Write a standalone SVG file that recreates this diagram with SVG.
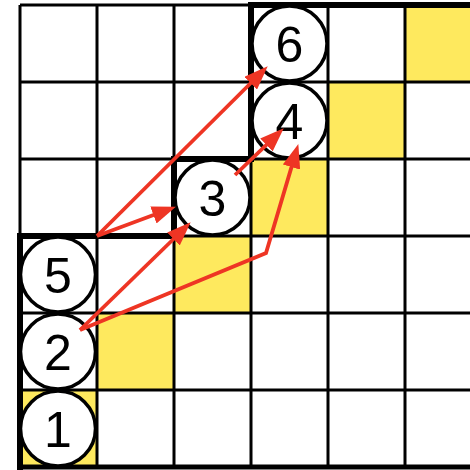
<svg xmlns="http://www.w3.org/2000/svg" width="470" height="470" viewBox="0 0 470 470">
<style>
.yel{fill:#FEE95E}
.grid{stroke:#000;stroke-width:3;fill:none}
.thick{stroke:#000;stroke-width:6;fill:none;stroke-linejoin:miter;stroke-linecap:square}
.node circle{fill:#fff;stroke:#000;stroke-width:3.5}
.node text{font-family:"Liberation Sans",Arial,sans-serif;font-size:50px;fill:#000;text-anchor:middle}
.arr{stroke:#EE3524;stroke-width:3.8;fill:none;marker-end:url(#ah)}
</style>
<defs>
<marker id="ah" viewBox="0 0 24 18" refX="13" refY="9" markerWidth="24" markerHeight="18" markerUnits="userSpaceOnUse" orient="auto">
<path d="M0,0 L24,9 L0,18 Z" fill="#EE3524"/>
</marker>
</defs>
<rect width="470" height="470" fill="#fff"/>
<g id="yellow">
<rect class="yel" x="20" y="390" width="77" height="77"/>
<rect class="yel" x="97" y="313" width="77" height="77"/>
<rect class="yel" x="174" y="236" width="77" height="77"/>
<rect class="yel" x="251" y="159" width="77" height="77"/>
<rect class="yel" x="328" y="82" width="77" height="77"/>
<rect class="yel" x="405" y="5" width="77" height="77"/>
</g>
<g id="grid" class="grid">
<path d="M20,5V467 M97,5V467 M174,5V467 M251,5V467 M328,5V467 M405,5V467"/>
<path d="M20,5H470 M20,82H470 M20,159H470 M20,236H470 M20,313H470 M20,390H470 M20,467H470"/>
</g>
<path id="staircase" class="thick" d="M20,467V236H174V159H251V5H472"/>
<path class="thick" d="M20,467H472" style="stroke-width:5"/>
<g id="n1" class="node"><circle cx="58" cy="428.5" r="37.5"/><text x="58" y="446.5">1</text></g>
<g id="n2" class="node"><circle cx="58" cy="351.5" r="37.5"/><text x="58" y="369.5">2</text></g>
<g id="n5" class="node"><circle cx="58" cy="274.5" r="37.5"/><text x="58" y="292.5">5</text></g>
<g id="n3" class="node"><circle cx="212.5" cy="197.5" r="37.5"/><text x="212.5" y="215.5">3</text></g>
<g id="n4" class="node"><circle cx="289.5" cy="120.5" r="37.5"/><text x="289.5" y="138.5">4</text></g>
<g id="n6" class="node"><circle cx="289.5" cy="43.5" r="37.5"/><text x="289.5" y="61.5">6</text></g>
<g id="connectors">
<path class="arr" d="M97,236 L259.9,74"/>
<path class="arr" d="M97,236 L165.6,210.5"/>
<path class="arr" d="M80,330 L182.8,230"/>
<path class="arr" d="M80,330 L266,253 L295.2,154.6"/>
<path class="arr" d="M235,175 L275.8,135.9"/>
</g>
</svg>
